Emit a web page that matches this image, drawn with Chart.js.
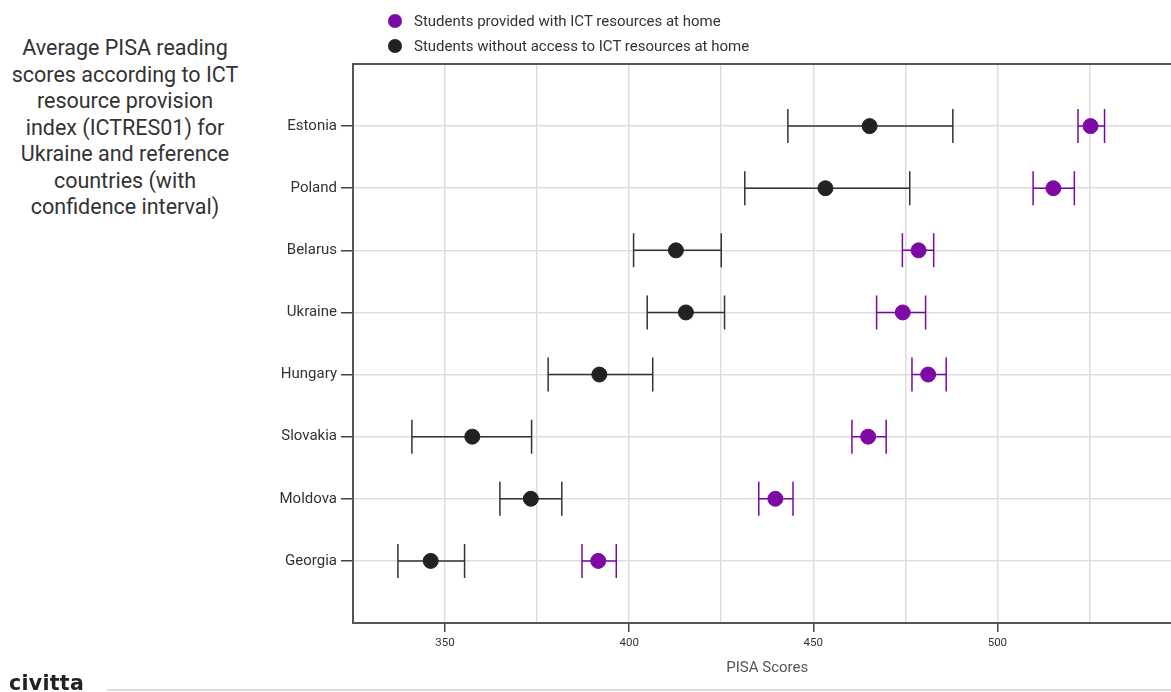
<!DOCTYPE html>
<html>
<head>
<meta charset="utf-8">
<script src="https://cdn.jsdelivr.net/npm/chart.js@4"></script>
<style>
body { margin:0; width:1171px; height:692px; overflow:hidden; background:#fff; font-family:Roboto, sans-serif; position:relative; }
#wrap { position:absolute; left:0; top:0; width:1190px; height:692px; }
#title { position:absolute; left:0; top:35px; width:250px; text-align:center; font-size:21.5px; line-height:26.5px; color:#333; }
#legend { position:absolute; left:388px; top:8px; font-size:15px; color:#333; }
.item { height:25px; display:flex; align-items:center; }
.dot { width:14px; height:14px; border-radius:50%; margin-right:12px; }
#logo { position:absolute; left:9px; top:671px; font-family:"DejaVu Sans", sans-serif; font-weight:bold; font-size:20.5px; color:#222; letter-spacing:0.3px; }
#rule { position:absolute; left:107px; top:689px; width:1070px; height:2px; background:#ddd; }
</style>
</head>
<body>
<div id="title">Average PISA reading<br>scores according to ICT<br>resource provision<br>index (ICTRES01) for<br>Ukraine and reference<br>countries (with<br>confidence interval)</div>
<div id="wrap"><canvas id="chart"></canvas></div>
<div id="legend"></div>
<div id="logo">civitta</div>
<div id="rule"></div>
<script>
// DATA
const countries = ["Estonia", "Poland", "Belarus", "Ukraine", "Hungary", "Slovakia", "Moldova", "Georgia"];
const yLabels = ["", ...countries, ""];

const withIct = [525.3, 515.2, 478.6, 474.3, 481.2, 464.9, 439.7, 391.6];
const withIctLow = [521.9, 509.7, 474.2, 467.2, 476.8, 460.5, 435.2, 387.2];
const withIctHigh = [529.1, 520.9, 482.7, 480.5, 486.1, 469.8, 444.5, 396.5];

const noIct = [465.3, 453.3, 412.7, 415.4, 391.9, 357.4, 373.3, 346.1];
const noIctLow = [443.1, 431.4, 401.2, 404.9, 378.0, 341.0, 364.9, 337.2];
const noIctHigh = [487.9, 476.2, 425.0, 425.9, 406.4, 373.5, 381.7, 355.3];

const xMin = 325, xMax = 550, xStep = 25;

Chart.defaults.font.family = "Roboto";
Chart.defaults.color = "#333";

// error bars + top frame line
const errorBars = {
    id: "errorBars",
    beforeDatasetsDraw(chart) {
        const ctx = chart.ctx;
        const x = chart.scales.x;
        const area = chart.chartArea;

        ctx.save();
        ctx.strokeStyle = "#555";
        ctx.lineWidth = 2;
        ctx.beginPath();
        ctx.moveTo(area.left - 1, area.top);
        ctx.lineTo(area.right, area.top);
        ctx.stroke();

        chart.data.datasets.forEach((ds, di) => {
            const meta = chart.getDatasetMeta(di);
            ctx.strokeStyle = ds.barColor;
            ctx.lineWidth = 1.5;
            meta.data.forEach((pt, i) => {
                const lo = x.getPixelForValue(ds.low[i]);
                const hi = x.getPixelForValue(ds.high[i]);
                const y = pt.y;
                ctx.beginPath();
                ctx.moveTo(lo, y); ctx.lineTo(hi, y);
                ctx.moveTo(lo, y - 17); ctx.lineTo(lo, y + 17);
                ctx.moveTo(hi, y - 17); ctx.lineTo(hi, y + 17);
                ctx.stroke();
            });
        });
        ctx.restore();
    }
};

const chart = new Chart(document.getElementById("chart"), {
    type: "scatter",
    data: {
        datasets: [{
            label: "Students provided with ICT resources at home",
            data: countries.map((c, i) => ({ x: withIct[i], y: c })),
            low: withIctLow,
            high: withIctHigh,
            barColor: "#7a0a9e",
            backgroundColor: "#7d0aa5",
            borderColor: "#7d0aa5",
            pointRadius: 7.5
        }, {
            label: "Students without access to ICT resources at home",
            data: countries.map((c, i) => ({ x: noIct[i], y: c })),
            low: noIctLow,
            high: noIctHigh,
            barColor: "#333",
            backgroundColor: "#222",
            borderColor: "#222",
            pointRadius: 7.5
        }]
    },
    options: {
        responsive: true,
        maintainAspectRatio: false,
        animation: false,
        layout: { padding: { top: 64, left: 0, right: 0, bottom: 0 } },
        plugins: {
            legend: { display: false },
            tooltip: { enabled: false }
        },
        scales: {
            x: {
                type: "linear",
                min: xMin,
                max: xMax,
                afterFit: s => { s.height = 69; },
                ticks: {
                    stepSize: xStep,
                    autoSkip: false,
                    maxRotation: 0,
                    padding: 4,
                    color: "#333",
                    font: { size: 11.5 },
                    callback: v => (v % 50 === 0 && v !== xMax) ? v : ""
                },
                grid: {
                    color: "#dedede",
                    lineWidth: 1.5,
                    tickLength: 9,
                    tickColor: c => (c.tick && c.tick.value % 50 === 0 && c.tick.value !== xMax) ? "#444" : "transparent"
                },
                border: { color: "#555", width: 2 },
                title: {
                    display: true,
                    text: "PISA Scores",
                    color: "#555",
                    font: { size: 15 },
                    padding: { top: 4, bottom: 15 }
                }
            },
            y: {
                type: "category",
                labels: yLabels,
                offset: false,
                afterFit: s => { s.width = 353; },
                ticks: {
                    autoSkip: false,
                    padding: 4,
                    color: "#333",
                    font: { size: 15 }
                },
                grid: {
                    color: "#dedede",
                    lineWidth: 1.5,
                    tickLength: 12,
                    tickColor: c => (c.index === 0 || c.index === yLabels.length - 1) ? "transparent" : "#444"
                },
                border: { color: "#555", width: 2 }
            }
        }
    },
    plugins: [errorBars]
});

// LEGEND (from the datasets)
const legend = document.getElementById("legend");
chart.data.datasets.forEach(ds => {
    const item = document.createElement("div");
    item.className = "item";
    item.innerHTML = '<span class="dot" style="background:' + ds.backgroundColor + '"></span>' + ds.label;
    legend.appendChild(item);
});
</script>
</body>
</html>
